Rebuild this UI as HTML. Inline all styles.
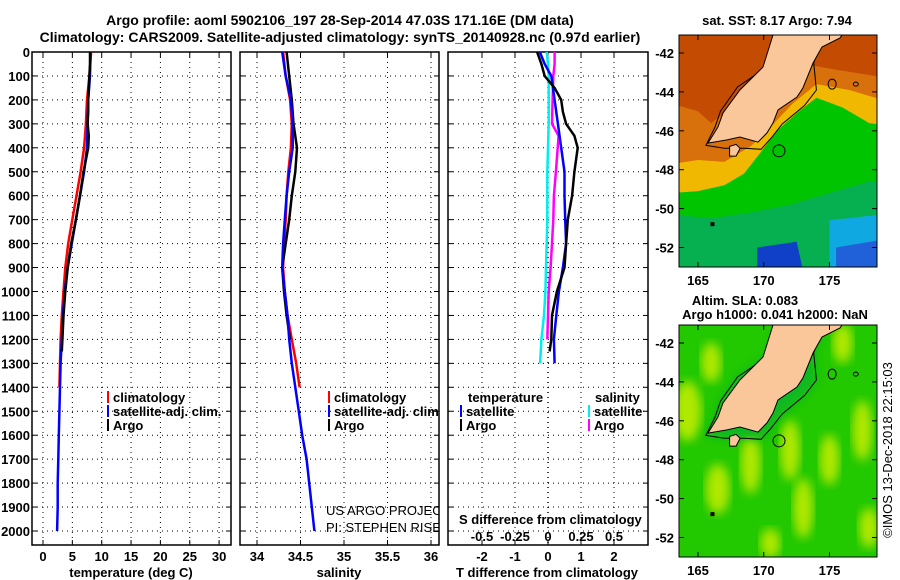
<!DOCTYPE html>
<html><head><meta charset="utf-8"><style>
body{margin:0;background:#fff}
svg{display:block;font-family:"Liberation Sans",Arial,sans-serif}
.b{font-weight:bold;font-size:13px}
.t{font-weight:bold;font-size:14px}
</style></head><body>
<svg id="c" width="900" height="580" viewBox="0 0 900 580" xmlns="http://www.w3.org/2000/svg">
<defs>
<clipPath id="cp1"><rect x="32" y="37" width="199" height="508"/></clipPath>
<clipPath id="cp2"><rect x="240" y="37" width="199" height="508"/></clipPath>
<clipPath id="cp3"><rect x="448" y="37" width="200" height="508"/></clipPath>
<clipPath id="cm1"><rect x="679" y="35" width="198" height="232"/></clipPath>
<clipPath id="cm2"><rect x="679" y="325" width="198" height="232"/></clipPath>
<filter id="bl"><feGaussianBlur stdDeviation="5"/></filter>
</defs>
<text class="t" x="340" y="25" text-anchor="middle">Argo profile: aoml 5902106_197 28-Sep-2014 47.03S 171.16E (DM data)</text>
<text class="t" x="340" y="42" text-anchor="middle">Climatology: CARS2009. Satellite-adjusted climatology: synTS_20140928.nc (0.97d earlier)</text>
<g id="g"></g>
</svg>
<script>
// ---- data ----
const tDepth=[0,50,100,150,200,250,300,350,400,450,500,600,700,800,900,1000,1100,1200,1250];
const tArgo=[8.0,8.0,7.9,7.8,7.7,7.7,7.6,7.8,7.7,7.3,6.9,6.3,5.6,4.8,4.2,3.8,3.5,3.3,3.2];
const cDepth=[0,100,200,300,400,500,600,700,800,900,1000,1100,1200,1300,1400];
const tClim=[8.2,7.9,7.5,7.3,7.0,6.4,5.7,5.0,4.3,3.8,3.5,3.2,3.0,2.9,2.8];
const sDepth=[0,100,200,300,400,500,600,700,800,900,1000,1100,1200,1300,1400,1500,1600,1700,1800,1900,2000];
const tSat=[8.1,8.0,7.7,7.6,7.5,7.0,6.3,5.6,4.9,4.2,3.7,3.4,3.2,3.0,2.9,2.8,2.7,2.6,2.5,2.5,2.4];
const sArgo=[34.34,34.37,34.40,34.42,34.46,34.44,34.40,34.37,34.33,34.29,34.31,34.34,34.38];
const sClim=[34.30,34.33,34.38,34.40,34.39,34.36,34.34,34.33,34.31,34.30,34.32,34.35,34.40,34.45,34.49];
const sSat=[34.29,34.33,34.39,34.41,34.41,34.37,34.34,34.32,34.30,34.29,34.32,34.35,34.37,34.40,34.44,34.48,34.52,34.57,34.60,34.63,34.66];
const dDepth=[0,50,100,150,200,250,300,350,400,500,600,700,800,900,1000,1100,1200,1250];
const dTArgo=[-0.33,-0.2,-0.1,0.2,0.4,0.45,0.55,0.8,0.9,0.8,0.73,0.6,0.55,0.5,0.27,0.12,0.1,0.05];
const d2Depth=[0,50,100,200,300,400,500,600,700,800,900,1000,1100,1200,1300];
const dTSat=[-0.25,-0.1,0.1,0.2,0.3,0.4,0.5,0.5,0.52,0.55,0.45,0.33,0.25,0.18,0.2];
const dSArgo=[0.05,0.05,0.04,0.035,0.03,0.08,0.06,0.045,0.04,0.03,0.02,0.005,0.0,-0.005];
const dSDepth=[0,50,100,200,300,350,500,600,700,800,900,1000,1100,1200];
const dSSat=[-0.01,0.0,0.005,0.005,0.005,0.0,-0.005,-0.005,-0.005,-0.01,-0.015,-0.02,-0.03,-0.05,-0.06];
const depthTicks=[0,100,200,300,400,500,600,700,800,900,1000,1100,1200,1300,1400,1500,1600,1700,1800,1900,2000];
const tTicks=[0,5,10,15,20,25,30];
const sTicks=[34,34.5,35,35.5,36];
const dTTicks=[-2,-1,0,1,2];
const dSTicks=[-0.5,-0.25,0,0.25,0.5];
const lonTicks=[165,170,175];
const latTicks=[-42,-44,-46,-48,-50,-52];
// ---- axes ----
const yD=d=>52+d*0.2395;
const xT=v=>43+v*5.87;
const xS=v=>257+(v-34)*87;
const xDT=v=>548+v*33;
const xDS=v=>548+v*132;
const NS='http://www.w3.org/2000/svg';
const G=document.getElementById('g');
function el(tag,attrs,parent,text){const e=document.createElementNS(NS,tag);for(const k in attrs)e.setAttribute(k,attrs[k]);if(text!==undefined)e.textContent=text;(parent||G).appendChild(e);return e;}
function line(x1,y1,x2,y2,st,p){return el('line',{x1,y1,x2,y2,stroke:'#000','stroke-width':1,...st},p);}
function series(xs,ds,fx,col,clip,name){
  const pts=xs.map((v,i)=>fx(v).toFixed(1)+','+yD(ds[i]).toFixed(1)).join(' ');
  const p=el('polyline',{points:pts,fill:'none',stroke:col,'stroke-width':2.5,'clip-path':'url(#'+clip+')'});
  
  
}
const panels=[[32,231,'cp1'],[240,439,'cp2'],[448,648,'cp3']];
panels.forEach((p,i)=>{
  const r=el('rect',{x:p[0],y:52,width:p[1]-p[0],height:493,fill:'none',stroke:'#000','stroke-width':1.5});
  
  
  depthTicks.forEach(d=>{line(p[0],yD(d),p[1],yD(d),{'stroke-dasharray':'1,4'});line(p[0],yD(d),p[0]+5,yD(d));line(p[1]-5,yD(d),p[1],yD(d));});
});
depthTicks.forEach(d=>{
  const t=el('text',{x:30,y:yD(d)+5,'text-anchor':'end',class:'b'},G,d);
  
  
});
function xaxis(ticks,fx,y,fmt,name){ticks.forEach(v=>{const x=fx(v);line(x,52,x,545,{'stroke-dasharray':'1,4','stroke-width':v===0&&name==='dt'?1.5:1});line(x,540,x,545);line(x,52,x,57);
  const t=el('text',{x:x,y:y,'text-anchor':'middle',class:'b'},G,fmt(v));
  
  });}
xaxis(tTicks,xT,561,v=>v,'temp');
xaxis(sTicks,xS,561,v=>v,'sal');
xaxis(dTTicks,xDT,561,v=>v,'dt');
dSTicks.forEach(v=>{const t=el('text',{x:xDS(v),y:541,'text-anchor':'middle',class:'b'},G,v);
  
  });
[[131,'temperature (deg C)','temp-axis-title'],[339,'salinity','sal-axis-title'],[547,'T difference from climatology','dt-axis-title']].forEach(a=>{
  const t=el('text',{x:a[0],y:577,'text-anchor':'middle',class:'b'},G,a[1]);
  
  });
let st=el('text',{x:459,y:524,class:'b'},G,'S difference from climatology');


// series
series(tClim,cDepth,xT,'#f00','cp1','temp-climatology');
series(tSat,sDepth,xT,'#00f','cp1','temp-satellite');
series(tArgo,tDepth,xT,'#000','cp1','temp-argo');
series(sClim,cDepth,xS,'#f00','cp2','sal-climatology');
series(sArgo,cDepth.slice(0,13),xS,'#000','cp2','sal-argo');
series(sSat,sDepth,xS,'#00f','cp2','sal-satellite');
series(dSSat,d2Depth,xDS,'#0ee','cp3','ds-satellite');
series(dSArgo,dSDepth,xDS,'#f0f','cp3','ds-argo');
series(dTSat,d2Depth,xDT,'#00f','cp3','dt-satellite');
series(dTArgo,dDepth,xDT,'#000','cp3','dt-argo');
// legends
function leg(x,y,col,txt,name){el('rect',{x:x,y:y-11,width:2,height:12,fill:col});
  const t=el('text',{x:x+6,y:y,class:'b'},G,txt);
  
  }
leg(107,402,'#f00','climatology','legend-climatology');
leg(107,416,'#00f','satellite-adj. clim.','legend-satellite');
leg(107,430,'#000','Argo','legend-argo');
const g2=el('g',{'clip-path':'url(#cp2)'});
[[402,'#f00','climatology'],[416,'#00f','satellite-adj. clim.'],[430,'#000','Argo']].forEach(a=>{el('rect',{x:328,y:a[0]-11,width:2,height:12,fill:a[1]},g2);el('text',{x:334,y:a[0],class:'b'},g2,a[2]);});
el('text',{x:326,y:515,'font-size':'13'},g2,'US ARGO PROJECT');
el('text',{x:326,y:532,'font-size':'13'},g2,'PI: STEPHEN RISER');
let tt=el('text',{x:468,y:402,class:'b'},G,'temperature');
let ss=el('text',{x:595,y:402,class:'b'},G,'salinity');
leg(460,416,'#00f','satellite','legend-t-satellite');
leg(460,430,'#000','Argo','legend-t-argo');
leg(588,416,'#0ee','satellite','legend-s-satellite');
leg(588,430,'#f0f','Argo','legend-s-argo');
// ---- maps ----
const mx=lon=>698+(lon-165)*13.15;
const my=(lat,top)=>top+18+(-42-lat)*19.45;
function poly(pts,top,fill,p,extra){return el('polygon',{points:pts.map(q=>mx(q[0]).toFixed(1)+','+my(q[1],top).toFixed(1)).join(' '),fill:fill,...(extra||{})},p);}
const island=[[170.7,-40.8],[170.7,-41.07],[169.94,-42.72],[168.19,-43.9],[166.9,-45.08],[166.52,-45.8],[165.76,-46.63],[167.21,-46.47],[168.19,-46.32],[169.56,-46.58],[170.25,-46.11],[170.7,-45.6],[171.08,-44.93],[172.53,-44.26],[172.98,-43.8],[173.75,-42.51],[174.43,-41.69],[175.8,-41.23],[176.2,-40.8]];
const stewart=[[167.4,-46.8],[167.9,-46.7],[168.2,-46.9],[167.9,-47.3],[167.4,-47.3]];
const shelf=[[171.4,-40.8],[170.3,-42.7],[168.0,-43.75],[166.7,-45.0],[166.3,-45.8],[165.6,-46.75],[167.0,-46.9],[168.5,-46.9],[169.8,-46.95],[170.6,-46.35],[171.4,-45.65],[173.1,-44.7],[174.0,-43.9],[173.8,-42.5],[174.6,-41.1],[177,-40.8]];
function drawMap(top,clip,sst,name){
  const g=el('g',{'clip-path':'url(#'+clip+')'});
  
  
  if(sst){
    poly([[163,-40],[180,-40],[180,-54],[163,-54]],top,'#c44c02',g);
    poly([[163,-44.6],[165,-45.0],[166,-45.6],[168,-44.6],[171,-43],[172.5,-42.5],[175,-42.8],[178.6,-43.2],[180,-54],[163,-54]],top,'#d8700c',g);
    poly([[163,-47.7],[165,-47.5],[167,-47.6],[169,-46.8],[170.8,-45.6],[172.2,-44.6],[174,-43.6],[176.5,-43.9],[179,-44.4],[180,-54],[163,-54]],top,'#f0b800',g);
    poly([[163,-49.2],[165,-49.1],[167,-48.8],[168.5,-48.2],[170,-46.9],[171,-46.0],[172.5,-45.1],[174,-44.3],[176,-44.8],[178,-45.6],[180,-45.8],[180,-54],[163,-54]],top,'#00c400',g);
    poly([[163,-50.3],[166,-50.5],[169,-50.2],[172,-49.8],[175,-49.2],[178,-48.6],[180,-48.5],[180,-54],[163,-54]],top,'#06b050',g);
    poly([[169.5,-52],[172.5,-51.7],[173,-53.2],[169.5,-53.2]],top,'#1040c8',g);
    poly([[175,-50.6],[179,-50.3],[179,-53.2],[175,-53.2]],top,'#10a8e0',g);
    poly([[175.5,-52],[179,-51.6],[179,-53.2],[175.5,-53.2]],top,'#2060d8',g);
  }else{
    el('rect',{x:679,y:top-20,width:200,height:260,fill:'#22c800'},g);
    const blobs=[[164.2,-45.5,14,30],[166,-43,10,20],[166.5,-49.5,12,25],[169,-48.2,10,30],[172,-47.5,10,30],[175,-48,10,25],[177.5,-46.5,10,30],[176,-42,10,20],[173,-50.5,10,30],[178,-51.5,10,20],[170.5,-52.3,10,15]];
    blobs.forEach(b=>el('ellipse',{cx:mx(b[0]),cy:my(b[1],top),rx:b[2],ry:b[3],fill:'#b0e800',filter:'url(#bl)'},g));
    poly(shelf,top,'#10b820',g,{filter:'url(#bl)'});
  }
  poly(shelf,top,'none',g,{stroke:'#000','stroke-width':1});
  poly(island,top,'#f9c79a',g,{stroke:'#000','stroke-width':1});
  poly(stewart,top,'#f9c79a',g,{stroke:'#000','stroke-width':1});
  el('circle',{cx:mx(171.16),cy:my(-47.03,top),r:6,fill:'none',stroke:'#000'},g);
  el('ellipse',{cx:mx(175.2),cy:my(-43.6,top),rx:4,ry:5,fill:'none',stroke:'#000'},g);
  el('ellipse',{cx:mx(177),cy:my(-43.6,top),rx:2.5,ry:2,fill:'none',stroke:'#000'},g);
  el('rect',{x:mx(166.1)-2,y:my(-50.8,top)-2,width:4,height:4,fill:'#000'},g);
  const fr=el('rect',{x:679,y:top,width:198,height:232,fill:'none',stroke:'#000'});
  
  
  latTicks.forEach(l=>{const y=my(l,top);line(679,y,684,y);line(872,y,877,y);
    const t=el('text',{x:674,y:y+5,'text-anchor':'end',class:'b'},G,l);
    
    });
  lonTicks.forEach(l=>{const x=mx(l);line(x,top,x,top+5);line(x,top+227,x,top+232);
    const t=el('text',{x:x,y:top+250,'text-anchor':'middle',class:'b'},G,l);
    
    });
}
drawMap(35,'cm1',true,'sst-map');
drawMap(325,'cm2',false,'sla-map');
[[777,25,'sat. SST: 8.17 Argo: 7.94','sst-map-title'],[745,305,'Altim. SLA: 0.083','sla-map-title'],[775,319,'Argo h1000: 0.041 h2000: NaN','sla-map-subtitle']].forEach(a=>{
  const t=el('text',{x:a[0],y:a[1],'text-anchor':'middle',class:'b'},G,a[2]);
  
  });
const cr=el('text',{x:0,y:0,'font-size':'13','text-anchor':'middle',transform:'translate(892,450) rotate(-90)'},G,'©IMOS 13-Dec-2018 22:15:03');


</script>
</body></html>
